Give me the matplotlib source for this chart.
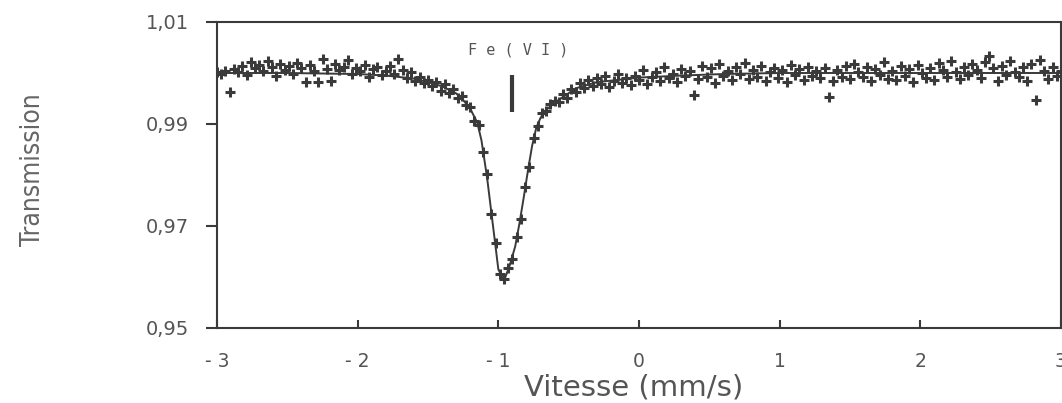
import numpy as np
import matplotlib
matplotlib.use("Agg")
import matplotlib.pyplot as plt

# spectre Mossbauer - Fe(VI)
vitesse = [
    -3.00, -2.97, -2.94, -2.91, -2.88, -2.85, -2.82, -2.79, -2.76, -2.73,
    -2.70, -2.67, -2.64, -2.61, -2.58, -2.55, -2.52, -2.49, -2.46, -2.43,
    -2.40, -2.37, -2.34, -2.31, -2.28, -2.25, -2.22, -2.19, -2.16, -2.13,
    -2.10, -2.07, -2.04, -2.01, -1.98, -1.95, -1.92, -1.89, -1.86, -1.83,
    -1.80, -1.77, -1.74, -1.71, -1.68, -1.65, -1.62, -1.59, -1.56, -1.53,
    -1.50, -1.47, -1.44, -1.41, -1.38, -1.35, -1.32, -1.29, -1.26, -1.23,
    -1.20, -1.17, -1.14, -1.11, -1.08, -1.05, -1.02, -0.99, -0.96, -0.93,
    -0.90, -0.87, -0.84, -0.81, -0.78, -0.75, -0.72, -0.69, -0.66, -0.63,
    -0.60, -0.57, -0.54, -0.51, -0.48, -0.45, -0.42, -0.39, -0.36, -0.33,
    -0.30, -0.27, -0.24, -0.21, -0.18, -0.15, -0.12, -0.09, -0.06, -0.03,
    0.00, 0.03, 0.06, 0.09, 0.12, 0.15, 0.18, 0.21, 0.24, 0.27,
    0.30, 0.33, 0.36, 0.39, 0.42, 0.45, 0.48, 0.51, 0.54, 0.57,
    0.60, 0.63, 0.66, 0.69, 0.72, 0.75, 0.78, 0.81, 0.84, 0.87,
    0.90, 0.93, 0.96, 0.99, 1.02, 1.05, 1.08, 1.11, 1.14, 1.17,
    1.20, 1.23, 1.26, 1.29, 1.32, 1.35, 1.38, 1.41, 1.44, 1.47,
    1.50, 1.53, 1.56, 1.59, 1.62, 1.65, 1.68, 1.71, 1.74, 1.77,
    1.80, 1.83, 1.86, 1.89, 1.92, 1.95, 1.98, 2.01, 2.04, 2.07,
    2.10, 2.13, 2.16, 2.19, 2.22, 2.25, 2.28, 2.31, 2.34, 2.37,
    2.40, 2.43, 2.46, 2.49, 2.52, 2.55, 2.58, 2.61, 2.64, 2.67,
    2.70, 2.73, 2.76, 2.79, 2.82, 2.85, 2.88, 2.91, 2.94, 2.97,
    3.00]

transmission = [
    1.0002, 0.9998, 1.0004, 0.9963, 1.0008, 1.0001, 1.0014, 0.9997, 1.0021, 1.0009,
    1.0016, 1.0003, 1.0024, 1.0011, 0.9995, 1.0018, 1.0006, 1.0013, 0.9999, 1.0020,
    1.0010, 0.9983, 1.0015, 1.0004, 0.9982, 1.0027, 1.0008, 0.9984, 1.0017, 1.0005,
    1.0012, 1.0026, 0.9998, 1.0009, 1.0003, 1.0015, 0.9993, 1.0007, 1.0011, 0.9996,
    1.0004, 1.0013, 0.9999, 1.0027, 1.0006, 0.9990, 1.0001, 0.9985, 0.9993, 0.9980,
    0.9987, 0.9975, 0.9983, 0.9965, 0.9978, 0.9960, 0.9969, 0.9950, 0.9955, 0.9938,
    0.9934, 0.9905, 0.9898, 0.9845, 0.9801, 0.9724, 0.9666, 0.9605, 0.9596, 0.9617,
    0.9636, 0.9679, 0.9713, 0.9776, 0.9815, 0.9872, 0.9897, 0.9922, 0.9925, 0.9940,
    0.9946, 0.9944, 0.9958, 0.9951, 0.9969, 0.9962, 0.9980, 0.9971, 0.9986, 0.9975,
    0.9990, 0.9978, 0.9994, 0.9972, 0.9985, 0.9999, 0.9981, 0.9991, 0.9976, 0.9995,
    0.9987, 1.0006, 0.9979, 0.9993, 1.0001, 0.9984, 1.0012, 0.9990, 0.9998, 0.9982,
    1.0007, 0.9995, 1.0003, 0.9957, 0.9988, 1.0014, 0.9992, 1.0009, 0.9980, 1.0017,
    0.9994, 1.0004, 0.9986, 1.0011, 0.9998, 1.0020, 0.9989, 1.0006, 0.9993, 1.0013,
    0.9985, 1.0002, 1.0010, 0.9991, 1.0005, 0.9983, 1.0015, 0.9996, 1.0008, 0.9987,
    1.0012, 0.9994, 1.0003, 0.9990, 1.0009, 0.9953, 0.9985, 1.0006, 0.9992, 1.0014,
    0.9988, 1.0018, 1.0001, 0.9993, 1.0011, 0.9984, 1.0007, 0.9996, 1.0022, 0.9989,
    1.0004, 0.9986, 1.0013, 0.9995, 1.0008, 0.9983, 1.0016, 1.0000, 0.9991, 1.0010,
    0.9987, 1.0019, 1.0005, 0.9993, 1.0024, 1.0002, 0.9988, 1.0012, 0.9996, 1.0017,
    1.0006, 0.9990, 1.0021, 1.0033, 1.0009, 0.9985, 1.0014, 0.9997, 1.0023, 1.0001,
    0.9992, 1.0011, 0.9984, 1.0018, 0.9947, 1.0026, 1.0003, 0.9989, 1.0012, 0.9995,
    1.0004]

# courbe ajustee
fit_v = [-3.0, -2.5, -2.0, -1.8, -1.6, -1.5, -1.4, -1.3, -1.25, -1.2, -1.15, -1.12,
         -1.08, -1.04, -1.0, -0.97, -0.95, -0.92, -0.88, -0.85, -0.82, -0.79, -0.76,
         -0.73, -0.7, -0.67, -0.6, -0.55, -0.45, -0.3, -0.1, 0.0, 0.3, 0.6, 1.0, 2.0, 3.0]
fit_t = [1.0000, 1.0000, 0.9998, 0.9995, 0.9989, 0.9982, 0.9974, 0.9960, 0.9947, 0.9930,
         0.9903, 0.9868, 0.9795, 0.9705, 0.9615, 0.9598, 0.9600, 0.9622, 0.9660, 0.9705,
         0.9755, 0.9808, 0.9857, 0.9893, 0.9912, 0.9925, 0.9942, 0.9951, 0.9970, 0.9982,
         0.9988, 0.9991, 0.9995, 0.9998, 1.0000, 1.0000, 1.0000]

xticks = [-3, -2, -1, 0, 1, 2, 3]
xlabels = ['- 3', '- 2', '- 1', '0', '1', '2', '3']
yticks = [0.95, 0.97, 0.99, 1.01]
ylabels = ['0,95', '0,97', '0,99', '1,01']

fe6_pos = -0.90
fe6_bar = (0.9924, 0.9996)
fe6_text_y = 1.0030

ink = '#3a3a3a'
txt = '#555555'

fig = plt.figure(figsize=(10.62, 4.03), dpi=100)
ax = fig.add_axes([217 / 1062, 1 - 328 / 403, 844 / 1062, 306 / 403])

ax.plot(fit_v, fit_t, color=ink, lw=1.4, zorder=2)
ax.plot(vitesse, transmission, ls='none', marker='+', ms=7, mew=2.2, color=ink, zorder=3)

ax.plot([fe6_pos, fe6_pos], fe6_bar, color=ink, lw=3, solid_capstyle='butt')
ax.text(fe6_pos + 0.04, fe6_text_y, 'F e ( V I )', ha='center', va='bottom',
        fontsize=11, family='DejaVu Sans Mono', color=txt)

ax.set_xlim(-3, 3)
ax.set_ylim(0.95, 1.01)
ax.set_xticks(xticks)
ax.set_xticklabels(xlabels)
ax.set_yticks(yticks)
ax.set_yticklabels(ylabels)

for s in ax.spines.values():
    s.set_color(ink)
    s.set_linewidth(1.5)

ax.tick_params(axis='x', direction='in', length=6, width=1.5, color=ink,
               pad=17, labelsize=13.5, labelcolor=txt)
ax.tick_params(axis='y', direction='out', length=8, width=1.5, color=ink,
               pad=12, labelsize=14, labelcolor=txt)

ax.set_xlabel('Vitesse (mm/s)', fontsize=21, color=txt, va='center')
ax.xaxis.set_label_coords(0.494, -0.194)
fig.text(33 / 1062, 1 - 170 / 403, 'Transmission', rotation=90, ha='center', va='center',
         fontsize=19, color='#666666', family='DejaVu Sans', fontstretch='condensed')

fig.savefig('out.png', dpi=100)
